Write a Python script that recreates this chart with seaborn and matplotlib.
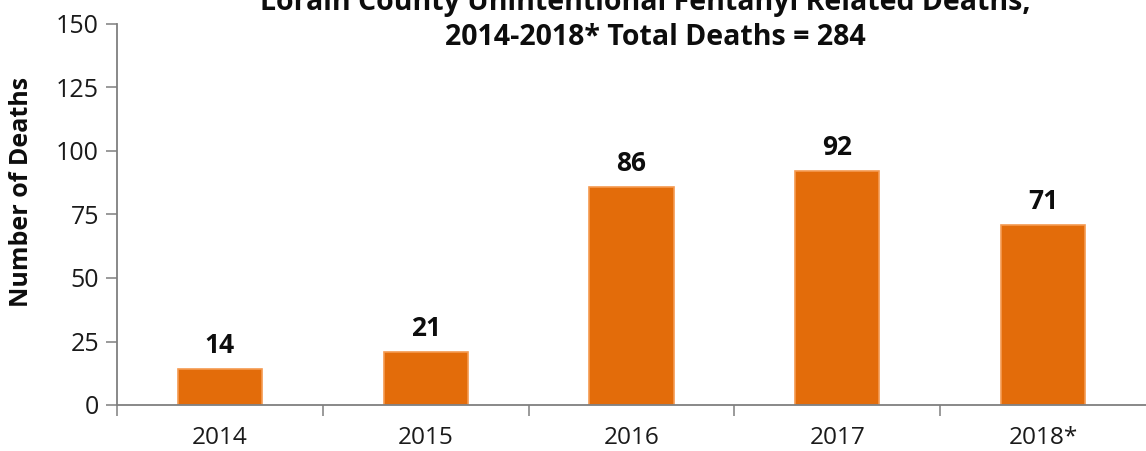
import matplotlib
matplotlib.use("Agg")
import matplotlib.pyplot as plt
import seaborn as sns
import pandas as pd

years = ["2014", "2015", "2016", "2017", "2018*"]
deaths = [14, 21, 86, 92, 71]
y_ticks = [0, 25, 50, 75, 100, 125, 150]
title_line1 = "Lorain County Unintentional Fentanyl Related Deaths,"
title_line2 = "2014-2018* Total Deaths = 284"
y_label = "Number of Deaths"

sns.set_theme(style="white")
plt.rcParams["font.family"] = ["Open Sans", "DejaVu Sans"]

W, H = 1146, 451
fig = plt.figure(figsize=(W / 100, H / 100), dpi=100)
ax = fig.add_axes([117 / W, 1 - 405 / H, (1146 - 117) / W, (405 - 24) / H])

df = pd.DataFrame({"year": years, "deaths": deaths})
sns.barplot(data=df, x="year", y="deaths", color="#E36C0A", saturation=1,
            width=0.41, edgecolor="#F59A50", linewidth=1.2, ax=ax)

ax.set_xlim(-0.5, len(years) - 0.5)
ax.set_ylim(0, 150)
ax.set_yticks(y_ticks)
ax.set_xlabel("")
ax.set_ylabel("")

axis_color = "#7f7f7f"
for side in ["top", "right"]:
    ax.spines[side].set_visible(False)
for side in ["left", "bottom"]:
    ax.spines[side].set_color(axis_color)
    ax.spines[side].set_linewidth(1.3)

ax.tick_params(axis="y", which="major", left=True, length=8, width=1.1,
               color=axis_color, labelsize=18, labelcolor="#1a1a1a", pad=5)
ax.tick_params(axis="x", which="major", bottom=False, labelsize=17.6,
               labelcolor="#1a1a1a", pad=9)
ax.set_xticks([i - 0.5 for i in range(len(years))], minor=True)
ax.tick_params(axis="x", which="minor", bottom=True, length=8, width=1.1,
               color=axis_color, direction="out")

for bar, val in zip(ax.patches, deaths):
    ax.annotate(f"{val}", (bar.get_x() + bar.get_width() / 2, bar.get_height()),
                xytext=(0, 11.5), textcoords="offset points", ha="center",
                va="baseline", fontsize=19, fontweight="bold", color="#0d0d0d")

fig.text(655 / W, 1 - 45 / H, title_line2, ha="center", va="baseline",
         fontsize=20.5, fontweight="bold", color="#0d0d0d")
fig.text(645 / W, 1 - 10 / H, title_line1, ha="center", va="baseline",
         fontsize=20.5, fontweight="bold", color="#0d0d0d")
fig.text(22 / W, 1 - 192 / H, y_label, ha="center", va="center",
         rotation=90, fontsize=18, fontweight="bold", color="#0d0d0d")

fig.savefig("out.png", dpi=100)
